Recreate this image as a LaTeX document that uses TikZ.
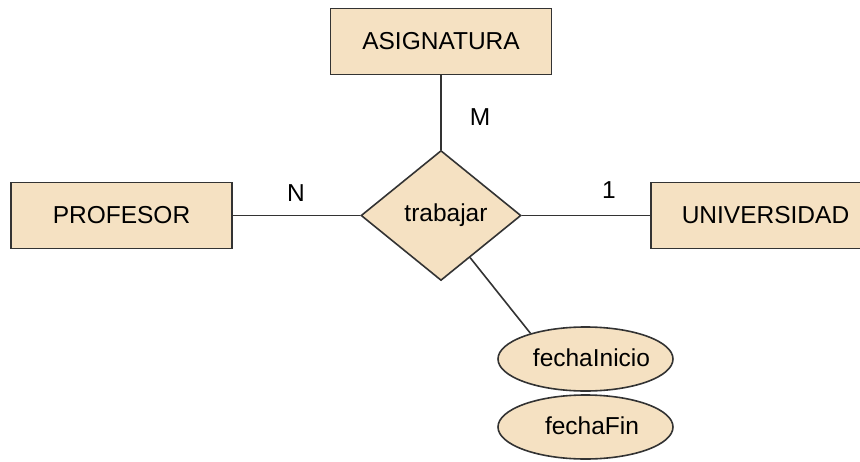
\documentclass[tikz,border=0pt]{standalone}
\usepackage{fontspec}
\setmainfont{Liberation Sans}
\usetikzlibrary{shapes.geometric,calc}
\definecolor{erfill}{HTML}{F5E1C2}
\definecolor{erline}{HTML}{333333}
% text set slightly off the node centre: #1 = twice the horizontal shift, #2 = raise
\newcommand\nudgedtext[3]{\makebox[0pt]{\hspace*{#1}\raisebox{#2}{#3}}}
\begin{document}
\begin{tikzpicture}[x=1pt,y=-1pt,
  every node/.style={font=\fontsize{24.5}{29}\selectfont, text=black},
  entity/.style={draw=erline, fill=erfill, line width=1.6pt,
    minimum width=221pt, minimum height=66pt, inner sep=0pt},
  relation/.style={diamond, draw=erline, fill=erfill, line width=1.6pt,
    minimum width=160pt, minimum height=130pt, inner sep=0pt, aspect=1.23},
  attribute/.style={ellipse, draw=erline, fill=erfill, line width=1.6pt,
    minimum width=175pt, minimum height=64pt, inner sep=0pt},
  link/.style={draw=erline, line width=1.6pt}]
\useasboundingbox (0,0) rectangle (860,461);
\begin{scope}
\clip (0,0) rectangle (860,461);
% entities
\node[entity] (asig) at (441,41.5) {ASIGNATURA};
\node[entity] (prof) at (121.5,215.5) {PROFESOR};
\node[entity] (univ) at (761.5,215.5) {\nudgedtext{8pt}{-1.4pt}{UNIVERSIDAD}};
% relationship
\node[relation] (rel) at (441,215.5) {\nudgedtext{10pt}{-1.4pt}{trabajar}};
% attributes of the relationship
\node[attribute] (ini) at (585.5,359) {\nudgedtext{12pt}{2pt}{fechaInicio}};
\node[attribute] (fin) at (585.5,427) {\nudgedtext{13pt}{2.5pt}{fechaFin}};
% connectors
\draw[link] (asig.south) -- (rel.north);
\draw[link] (prof.east) -- (rel.west);
\draw[link] (rel.east) -- (univ.west);
\coordinate (relsoe) at ($(rel.south)!0.36!(rel.east)$);
\draw[link] (relsoe) -- (ini.155);
% cardinalities
\node (m) at (480,117) {M};
\node (n) at (296,193) {N};
\node (one) at (609,190) {1};
\end{scope}
\end{tikzpicture}
\end{document}
